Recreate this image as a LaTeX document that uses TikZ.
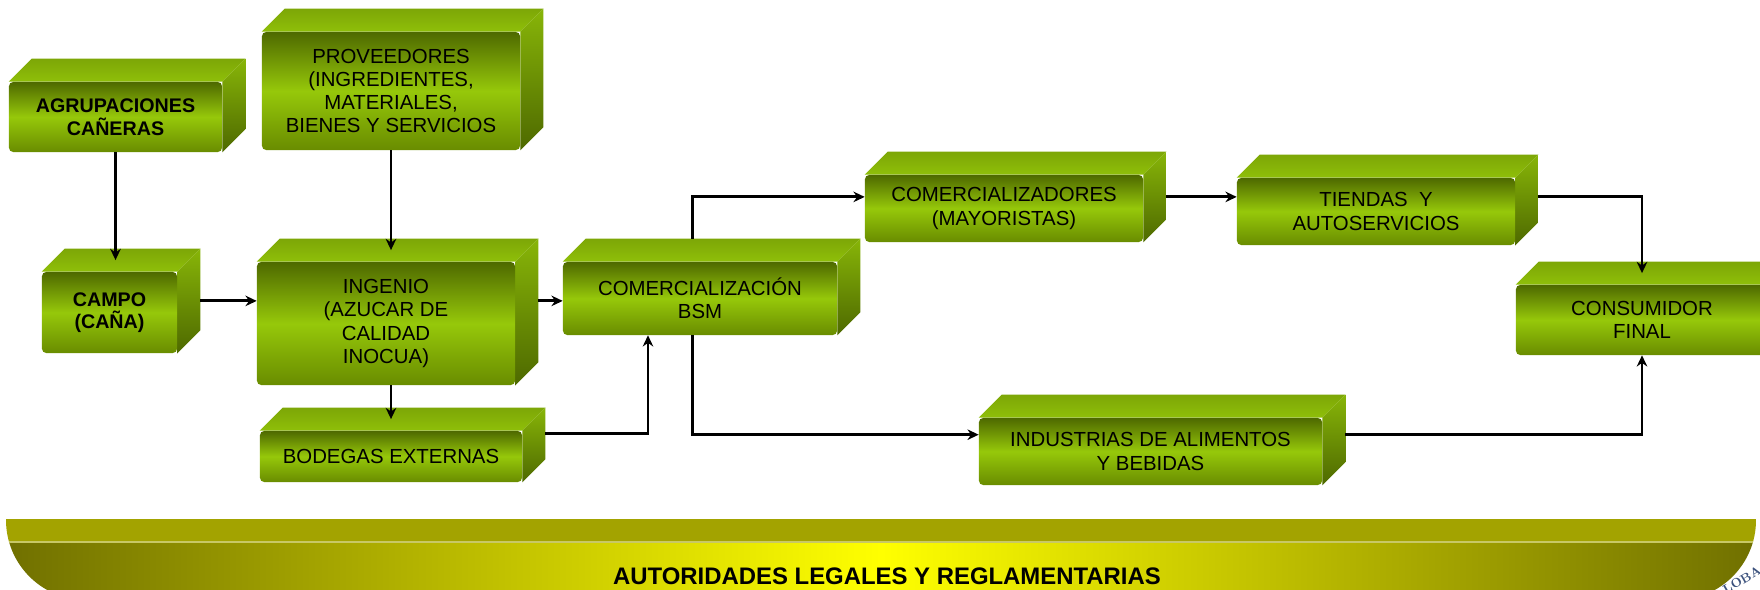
\documentclass[tikz,border=0pt]{standalone}
\usepackage{fontspec}
\usepackage{tikz}
\usetikzlibrary{shapes.geometric, arrows.meta, positioning, calc}
\newfontfamily\boxfont{Liberation Sans}
\definecolor{canedark}{RGB}{78, 105, 0}
\definecolor{canelight}{RGB}{150, 200, 10}
\definecolor{canemid}{RGB}{105, 140, 0}
\definecolor{bandolive}{RGB}{163, 163, 0}
\definecolor{banddark}{RGB}{112, 112, 0}
\definecolor{bandyellow}{RGB}{255, 255, 0}
\definecolor{sealblue}{RGB}{60, 82, 125}
\newcommand{\cubed}{0.575cm}
\newcommand{\halfd}{0.29cm}

\begin{document}
\begin{tikzpicture}[
    x=0.025cm, y=-0.025cm,
    cubetop/.style={top color=canelight!65!canedark, bottom color=canelight!90!canedark},
    cubeside/.style={top color=canelight!80!canedark, bottom color=canedark},
    cube/.style={rectangle, inner sep=0pt, align=center, rounded corners=3pt,
                 top color=canedark, bottom color=canemid, middle color=canelight,
                 font=\boxfont\fontsize{14.5}{16.5}\selectfont,
                 append after command={\pgfextra{\let\cubenode\tikzlastnode
                   \path[cubetop] (\cubenode.north west) -- ++(\cubed,\cubed)
                     -- ([shift={(\cubed,\cubed)}]\cubenode.north east)
                     -- (\cubenode.north east) -- cycle;
                   \path[cubeside] (\cubenode.north east) -- ++(\cubed,\cubed)
                     -- ([shift={(\cubed,\cubed)}]\cubenode.south east)
                     -- (\cubenode.south east) -- cycle;
                 }}},
    cubebold/.style={cube, font=\boxfont\bfseries\fontsize{14}{16}\selectfont},
    arrow/.style={-{Stealth[length=8pt, width=7.5pt]}, line width=2pt}
]
\useasboundingbox (0,0) rectangle (1760,590);

% Sources
\node[cubebold, minimum width=5.325cm, minimum height=1.75cm] (agrup) at (115.5,117) {AGRUPACIONES\\CAÑERAS};
\node[cube, minimum width=6.45cm, minimum height=2.95cm] (prov) at (391,91) {PROVEEDORES\\(INGREDIENTES,\\MATERIALES,\\BIENES Y SERVICIOS};
\node[cubebold, minimum width=3.375cm, minimum height=2.025cm] (campo) at (109.5,312.5) {CAMPO\\(CAÑA)};

% Mill
\node[cube, minimum width=6.45cm, minimum height=3.075cm] (ingenio) at (386,323.5) {INGENIO\\(AZUCAR DE\\CALIDAD\\INOCUA)};
\node[cube, minimum width=6.55cm, minimum height=1.275cm] (bodegas) at (391,456.5) {BODEGAS EXTERNAS};
\node[cube, minimum width=6.85cm, minimum height=1.825cm] (comerc) at (700,298.5) {COMERCIALIZACIÓN\\BSM};

% Distribution
\node[cube, minimum width=6.95cm, minimum height=1.675cm] (mayor) at (1004,208.5) {COMERCIALIZADORES\\(MAYORISTAS)};
\node[cube, minimum width=6.95cm, minimum height=1.675cm] (tiendas) at (1376,211.5) {TIENDAS \ Y\\AUTOSERVICIOS};
\node[cube, minimum width=8.575cm, minimum height=1.675cm] (indus) at (1150.5,451.5) {INDUSTRIAS DE ALIMENTOS\\Y BEBIDAS};
\node[cube, minimum width=6.3cm, minimum height=1.75cm] (cons) at (1642,320) {CONSUMIDOR\\FINAL};

% Authorities band
\begin{scope}
  \clip[rounded corners=2cm] (6,430) rectangle (1756,600);
  \fill[bandolive] (6,519) rectangle (1756,542);
  \shade[left color=banddark, right color=banddark, middle color=bandyellow] (6,542) rectangle (1756,600);
  \draw[bandolive!60!white, line width=0.8pt] (6,542) -- (1756,542);
\end{scope}
\node[font=\boxfont\bfseries\fontsize{17}{19}\selectfont] (autoridades) at (887,576) {AUTORIDADES LEGALES Y REGLAMENTARIAS};
\node[rotate=30, text=sealblue, font=\bfseries\fontsize{9}{9}\selectfont] (sello) at (1742,580) {LOBA};

% Connections
\draw[arrow] (agrup.south) -- ([yshift=\halfd]agrup.south |- campo.north);
\draw[arrow] (prov.south) -- ([yshift=\halfd]prov.south |- ingenio.north);
\coordinate (campoout) at ([shift={(\cubed,\halfd)}]campo.east);
\draw[arrow] (campoout) -- (campoout -| ingenio.west);
\draw[arrow] ([xshift=\cubed]campoout -| ingenio.east) -- (campoout -| comerc.west);
\draw[arrow] (prov.south |- ingenio.south) -- ([yshift=\halfd]prov.south |- bodegas.north);
\draw[arrow] ([shift={(\cubed,\cubed)}]bodegas.east) -| ([xshift=-1.3cm]comerc.south);
\draw[arrow] ([shift={(-0.18cm,\cubed)}]comerc.north) |- ([yshift=\halfd]mayor.west);
\draw[arrow] ([xshift=-0.18cm]comerc.south) |- ([yshift=0.42cm]indus.west);
\coordinate (mayorout) at ([shift={(\cubed,\halfd)}]mayor.east);
\draw[arrow] (mayorout) -- (mayorout -| tiendas.west);
\draw[arrow] ([xshift=\cubed]mayorout -| tiendas.east) -| ([yshift=\halfd]cons.north);
\draw[arrow] ([shift={(\cubed,0.42cm)}]indus.east) -| (cons.south);

\end{tikzpicture}
\end{document}
